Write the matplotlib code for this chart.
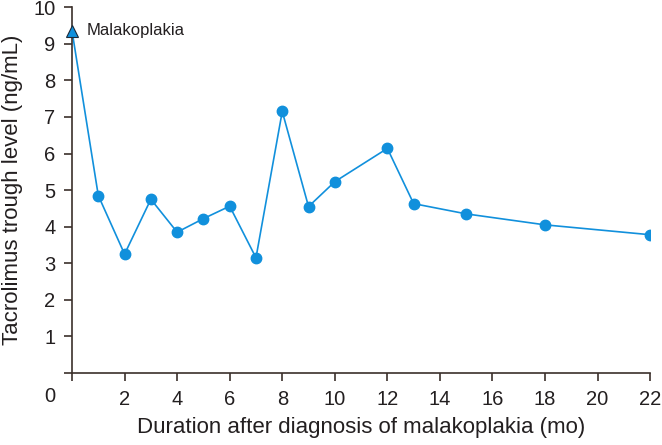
import matplotlib
matplotlib.use("Agg")
from matplotlib import pyplot as plt
from matplotlib.transforms import blended_transform_factory

plt.rcParams['font.family'] = ['Liberation Sans', 'DejaVu Sans']

# Months after diagnosis and tacrolimus trough level (ng/mL)
months = [0, 1, 2, 3, 4, 5, 6, 7, 8, 9, 10, 12, 13, 15, 18, 22]
levels = [9.35, 4.85, 3.25, 4.75, 3.85, 4.22, 4.56, 3.15, 7.15, 4.55, 5.23, 6.14, 4.63, 4.35, 4.05, 3.78]

xTicks = list(range(0, 23, 2))
yTicks = list(range(0, 11))

lineColour = "#1190dc"
axisColour = "#3b302b"
textColour = "#231f20"

fig = plt.figure(figsize=(6.62, 4.45), dpi=100)
ax = fig.add_axes([0.1088, 0.1618, 0.8733, 0.822])

ax.plot(months, levels, color=lineColour, linewidth=1.2, zorder=2)
ax.plot(months[1:], levels[1:], linestyle="", marker="o", markersize=7.5, color=lineColour, zorder=3)
ax.plot(months[:1], levels[:1], linestyle="", marker="^", markersize=8, color=lineColour,
        markeredgecolor="#1b2a3a", markeredgewidth=0.8, zorder=4, clip_on=False)
ax.text(months[0] + 0.55, levels[0], "Malakoplakia", fontsize=12, va="center", ha="left", color=textColour)

ax.set_xlim(0, 22)
ax.set_ylim(0, 10)
ax.set_xticks(xTicks)
ax.set_xticklabels(["" if t == 0 else str(t) for t in xTicks])
ax.set_yticks(yTicks)
ax.set_yticklabels(["" if t == 0 else str(t) for t in yTicks])

# shared origin label sits at the corner
trans = blended_transform_factory(ax.transAxes, ax.transAxes)
ax.text(-0.038, -0.065, "0", transform=trans, fontsize=14.5, ha="center", va="center", color=textColour)

for side in ["top", "right"]:
    ax.spines[side].set_visible(False)
for side in ["left", "bottom"]:
    ax.spines[side].set_color(axisColour)
    ax.spines[side].set_linewidth(1.2)

ax.tick_params(axis="both", direction="out", length=6, width=1.2, color=axisColour,
               labelsize=14.5, labelcolor=textColour, pad=6)

ax.set_xlabel("Duration after diagnosis of malakoplakia (mo)", fontsize=16, color=textColour, labelpad=6)
ax.set_ylabel("Tacrolimus trough level (ng/mL)", fontsize=16, color=textColour, labelpad=7)

fig.savefig("out.png", dpi=100)
